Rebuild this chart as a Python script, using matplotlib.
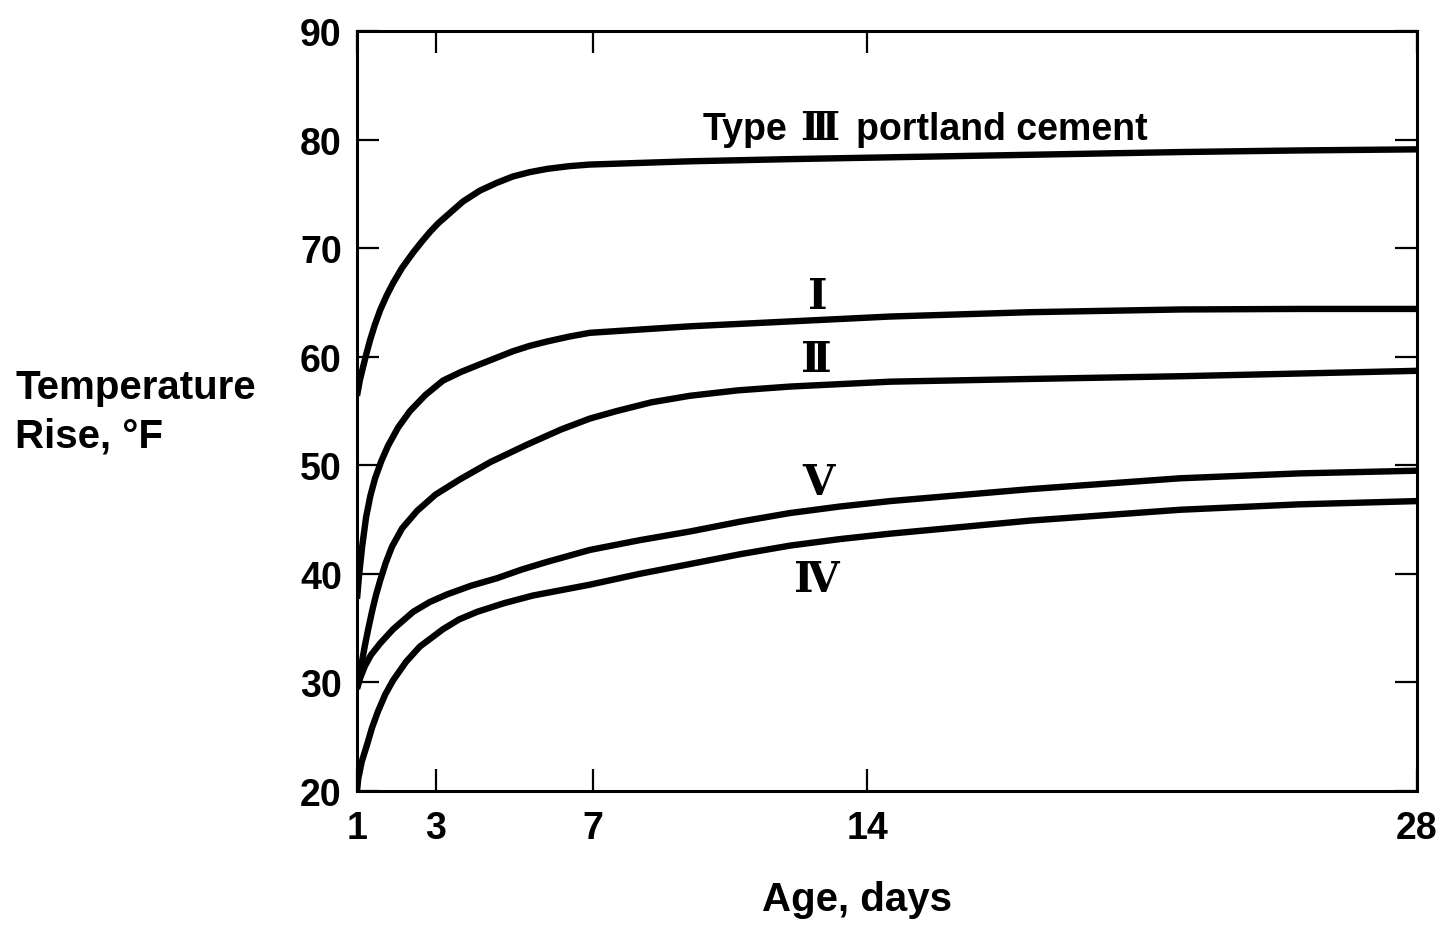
import matplotlib.pyplot as plt

plt.rcParams['font.family'] = ['Liberation Sans', 'DejaVu Sans']
plt.rcParams['font.weight'] = 'bold'

# ages (days) and temperature rise (F)
days_iii = [1, 1.07, 1.15, 1.24, 1.33, 1.45, 1.59, 1.75, 1.92, 2.15, 2.43, 2.65, 2.86, 3.07,
            3.29, 3.7, 4.13, 4.55, 4.97, 5.4, 5.84, 6.4, 6.93, 8.2, 9.48, 12.03, 14.32,
            18.14, 21.96, 25, 28]
rise_iii = [56.4, 57.8, 59.0, 60.3, 61.5, 62.9, 64.3, 65.6, 66.8, 68.2, 69.6, 70.6, 71.5, 72.3,
            73.0, 74.3, 75.3, 76.0, 76.6, 77.0, 77.3, 77.55, 77.7, 77.85, 78.0, 78.2, 78.35,
            78.6, 78.85, 79.0, 79.1]

days_i = [1, 1.05, 1.13, 1.23, 1.34, 1.46, 1.62, 1.79, 2.05, 2.35, 2.75, 3.19, 3.65, 4.13,
          4.55, 4.97, 5.4, 5.84, 6.4, 6.93, 8.2, 9.48, 12.03, 14.58, 18.14, 21.96, 25, 28]
rise_i = [37.7, 39.8, 42.5, 45.2, 47.2, 48.8, 50.4, 51.8, 53.5, 55.0, 56.5, 57.8, 58.6, 59.3,
          59.9, 60.5, 61.0, 61.4, 61.85, 62.2, 62.5, 62.8, 63.25, 63.7, 64.1, 64.35, 64.4, 64.4]

days_ii = [1, 1.08, 1.2, 1.29, 1.38, 1.48, 1.59, 1.73, 1.89, 2.15, 2.53, 3.0, 3.62, 4.4, 5.33,
           6.2, 6.93, 7.62, 8.5, 9.48, 10.7, 12.03, 14.58, 18.14, 21.96, 25, 28]
rise_ii = [29.6, 31.0, 33.4, 35.0, 36.5, 38.0, 39.4, 41.0, 42.5, 44.2, 45.8, 47.3, 48.7, 50.3, 51.9,
           53.3, 54.3, 55.0, 55.8, 56.4, 56.9, 57.25, 57.7, 57.95, 58.2, 58.45, 58.7]

days_v = [1, 1.08, 1.2, 1.35, 1.59, 1.92, 2.43, 2.85, 3.29, 3.9, 4.57, 5.2, 5.84, 6.93, 8.2,
          9.48, 10.75, 12.03, 13.3, 14.58, 18.14, 21.96, 25, 28]
rise_v = [29.4, 30.4, 31.5, 32.5, 33.6, 34.9, 36.5, 37.4, 38.1, 38.9, 39.6, 40.4, 41.1, 42.2, 43.1,
          43.9, 44.8, 45.6, 46.2, 46.7, 47.8, 48.8, 49.25, 49.5]

days_iv = [1, 1.03, 1.12, 1.25, 1.38, 1.53, 1.72, 1.92, 2.25, 2.6, 3.19, 3.6, 4.06, 4.75, 5.48,
           6.93, 8.2, 9.48, 10.75, 12.03, 13.3, 14.58, 18.14, 21.96, 25, 28]
rise_iv = [20.0, 21.1, 22.7, 24.2, 25.8, 27.3, 28.9, 30.2, 31.9, 33.3, 34.9, 35.8, 36.5, 37.3, 38.0,
           39.0, 40.0, 40.9, 41.8, 42.6, 43.2, 43.7, 44.9, 45.9, 46.4, 46.7]

x_ticks = [1, 3, 7, 14, 28]
y_ticks = [20, 30, 40, 50, 60, 70, 80, 90]

# label text and where it sits (day, rise)
curve_labels = ["\u2160", "\u2161", "\u2164", "\u2163"]
label_pos = [(12.74, 65.6), (12.7, 59.8), (12.74, 48.5), (12.7, 39.5)]

fig = plt.figure(figsize=(14.49, 9.28), dpi=100)
ax = fig.add_axes([0.2464, 0.1466, 0.7315, 0.8189])

for d, r in [(days_iii, rise_iii), (days_i, rise_i), (days_ii, rise_ii),
             (days_v, rise_v), (days_iv, rise_iv)]:
    ax.plot(d, r, color="black", lw=4.6, solid_joinstyle="round", solid_capstyle="butt")

ax.set_xlim(1, 28)
ax.set_ylim(20, 90)
ax.set_xticks(x_ticks)
ax.set_yticks(y_ticks)
ax.tick_params(direction="in", length=16, width=1.6, top=True, right=True,
               labelsize=27)
ax.tick_params(axis="x", pad=14)
ax.tick_params(axis="y", pad=11)
for lab in ax.get_xticklabels() + ax.get_yticklabels():
    lab.set_fontweight("bold")
for sp in ax.spines.values():
    sp.set_linewidth(2.2)

numeral_font = ["DejaVu Serif", "DejaVu Sans"]
for txt, (x, y) in zip(curve_labels, label_pos):
    ax.text(x, y, txt, ha="center", va="center", fontsize=30,
            fontweight="bold", family=numeral_font)

# "Type III portland cement" in three pieces so the numeral gets the slab font
ax.text(11.95, 80.05, "Type", ha="right", va="baseline", fontsize=27, fontweight="bold")
ax.text(12.79, 80.05, "\u2162", ha="center", va="baseline", fontsize=28,
        fontweight="bold", family=numeral_font)
ax.text(13.7, 80.05, "portland cement", ha="left", va="baseline", fontsize=27,
        fontweight="bold")

fig.text(0.0104, 0.556, "Temperature\nRise, \u00b0F", ha="left", va="center",
         fontsize=29, fontweight="bold", linespacing=1.35)
fig.text(0.5914, 0.0302, "Age, days", ha="center", va="center",
         fontsize=29, fontweight="bold")

fig.savefig("out.png", dpi=100)
